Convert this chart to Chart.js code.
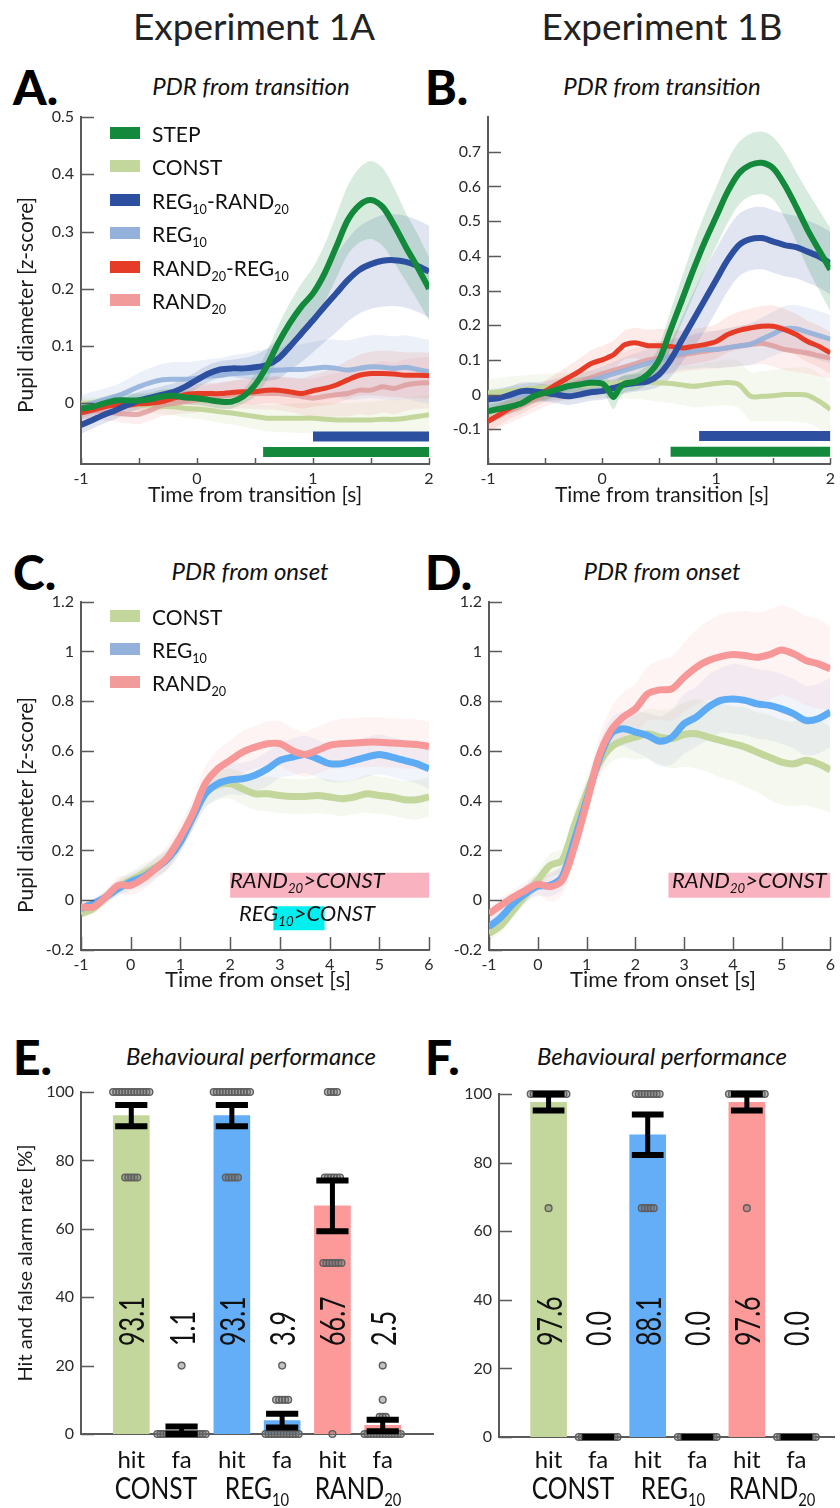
<!DOCTYPE html>
<html>
<head>
<meta charset="utf-8">
<title>Pupil dilation responses and behavioural performance</title>
<script src="https://cdn.jsdelivr.net/npm/chart.js@4.4.1/dist/chart.umd.min.js"></script>
<style>
  body { margin: 0; background: #fff; font-family: Lato, "Open Sans", sans-serif; color: #1a1a1a; }
  #page { position: relative; width: 840px; height: 1508px; overflow: hidden; }
  canvas { position: absolute; }
  .txt { position: absolute; white-space: nowrap; line-height: 1; }
  .patch { position: absolute; width: 30px; height: 12px; }
  sub { font-size: 0.6em; vertical-align: -0.4em; line-height: 0; }
</style>
</head>
<body>
<div id="page"></div>
<script>
// ---------- data: Experiment 1A, PDR from transition ----------
const A_TIME = [-1,-0.9,-0.8,-0.7,-0.6,-0.5,-0.4,-0.3,-0.2,-0.1,0,0.1,0.2,0.3,0.4,0.5,0.6,0.7,0.8,0.9,1,1.1,1.2,1.3,1.4,1.5,1.6,1.7,1.8,1.9,2];
const A_STEP = [-0.009,-0.006,0,0.005,0.005,0.005,0.007,0.012,0.013,0.010,0.009,0.006,0.003,0.003,0.012,0.032,0.064,0.105,0.14,0.169,0.192,0.227,0.273,0.32,0.346,0.355,0.343,0.311,0.273,0.238,0.2];
const A_STEP_SEM = [0.012,0.012,0.012,0.012,0.012,0.012,0.012,0.012,0.012,0.012,0.012,0.012,0.012,0.012,0.012,0.02,0.025,0.03,0.035,0.04,0.045,0.05,0.055,0.06,0.065,0.068,0.068,0.065,0.06,0.058,0.055];
const A_REG_RAND = [-0.038,-0.029,-0.02,-0.012,-0.003,0.005,0.01,0.015,0.02,0.029,0.041,0.052,0.059,0.061,0.061,0.063,0.067,0.078,0.099,0.122,0.145,0.169,0.192,0.215,0.233,0.243,0.249,0.25,0.247,0.24,0.23];
const A_REG_RAND_SEM = [0.015,0.015,0.015,0.015,0.015,0.015,0.015,0.015,0.015,0.015,0.015,0.015,0.015,0.015,0.018,0.022,0.028,0.035,0.042,0.05,0.056,0.062,0.068,0.072,0.076,0.078,0.08,0.08,0.08,0.08,0.08];
const A_REG = [-0.006,0,0.006,0.012,0.02,0.029,0.036,0.041,0.042,0.042,0.044,0.047,0.049,0.052,0.053,0.055,0.057,0.058,0.059,0.059,0.061,0.063,0.061,0.058,0.061,0.064,0.063,0.061,0.063,0.059,0.055];
const A_REG_SEM = [0.02,0.02,0.02,0.02,0.022,0.024,0.026,0.028,0.03,0.03,0.03,0.03,0.03,0.032,0.034,0.036,0.038,0.04,0.042,0.044,0.046,0.048,0.05,0.052,0.054,0.055,0.056,0.056,0.056,0.056,0.056];
const A_RAND_REG = [-0.017,-0.012,-0.006,-0.003,-0.003,-0.001,0,0.003,0.009,0.015,0.017,0.017,0.017,0.019,0.02,0.02,0.023,0.023,0.02,0.017,0.022,0.026,0.032,0.041,0.049,0.052,0.052,0.051,0.049,0.049,0.048];
const A_RAND_REG_SEM = [0.012,0.012,0.012,0.012,0.012,0.012,0.013,0.014,0.015,0.016,0.017,0.018,0.019,0.02,0.021,0.022,0.023,0.024,0.025,0.026,0.028,0.03,0.032,0.034,0.036,0.038,0.04,0.04,0.04,0.04,0.04];
const A_RAND = [-0.012,-0.012,-0.015,-0.017,-0.019,-0.019,-0.012,-0.003,0,0.003,0.006,0.009,0.012,0.015,0.017,0.017,0.017,0.017,0.015,0.012,0.009,0.012,0.015,0.017,0.023,0.023,0.029,0.026,0.032,0.035,0.036];
const A_RAND_SEM = [0.015,0.015,0.015,0.015,0.016,0.017,0.018,0.019,0.02,0.021,0.022,0.023,0.024,0.025,0.026,0.027,0.028,0.029,0.03,0.032,0.034,0.036,0.038,0.04,0.042,0.044,0.045,0.045,0.045,0.045,0.045];
const A_CONST = [0,0,0,0,-0.001,-0.003,-0.003,-0.005,-0.006,-0.009,-0.01,-0.012,-0.015,-0.017,-0.02,-0.023,-0.026,-0.026,-0.026,-0.026,-0.026,-0.028,-0.029,-0.029,-0.029,-0.029,-0.028,-0.028,-0.026,-0.023,-0.02];
const A_CONST_SEM = [0.01,0.01,0.01,0.01,0.011,0.012,0.013,0.014,0.015,0.016,0.017,0.018,0.019,0.02,0.021,0.022,0.023,0.024,0.025,0.026,0.027,0.028,0.029,0.03,0.031,0.032,0.033,0.034,0.035,0.035,0.035];
// significant clusters: [start, end, y level]
const A_SIG_REG_RAND = [1.0, 2.0, -0.058];
const A_SIG_STEP = [0.57, 2.0, -0.085];

// ---------- data: Experiment 1B, PDR from transition ----------
const B_TIME = [-1,-0.9,-0.8,-0.7,-0.6,-0.5,-0.4,-0.3,-0.2,-0.1,0,0.05,0.1,0.15,0.2,0.3,0.4,0.5,0.6,0.7,0.8,0.9,1,1.1,1.2,1.3,1.4,1.5,1.6,1.7,1.8,1.9,2];
const B_STEP = [-0.048,-0.041,-0.034,-0.024,-0.005,0.005,0.014,0.024,0.029,0.034,0.032,0.015,-0.007,0.018,0.032,0.038,0.058,0.1,0.187,0.273,0.36,0.441,0.513,0.585,0.638,0.662,0.668,0.652,0.604,0.542,0.475,0.417,0.36];
const B_STEP_SEM = [0.02,0.02,0.02,0.02,0.02,0.02,0.02,0.02,0.02,0.02,0.02,0.03,0.035,0.03,0.025,0.025,0.028,0.04,0.055,0.065,0.075,0.08,0.085,0.09,0.09,0.09,0.09,0.09,0.095,0.1,0.11,0.115,0.12];
const B_REG_RAND = [-0.014,-0.01,0,0.01,0.01,0.005,0,-0.005,0,0.007,0.01,0.015,0.019,0.024,0.029,0.034,0.038,0.058,0.1,0.158,0.216,0.273,0.331,0.388,0.431,0.448,0.451,0.441,0.431,0.425,0.412,0.398,0.379];
const B_REG_RAND_SEM = [0.025,0.025,0.025,0.025,0.025,0.025,0.025,0.025,0.025,0.025,0.025,0.025,0.025,0.025,0.025,0.025,0.025,0.035,0.05,0.065,0.08,0.09,0.09,0.09,0.09,0.09,0.09,0.09,0.09,0.09,0.09,0.09,0.09];
const B_RAND_REG = [-0.077,-0.058,-0.038,-0.024,-0.007,0.01,0.029,0.048,0.067,0.089,0.1,0.107,0.115,0.13,0.144,0.149,0.141,0.141,0.139,0.134,0.139,0.144,0.153,0.173,0.185,0.192,0.197,0.197,0.187,0.173,0.153,0.139,0.12];
const B_RAND_REG_SEM = [0.03,0.03,0.03,0.03,0.03,0.03,0.032,0.034,0.036,0.038,0.04,0.04,0.04,0.04,0.042,0.044,0.046,0.048,0.05,0.05,0.05,0.05,0.05,0.052,0.054,0.056,0.058,0.06,0.06,0.06,0.06,0.06,0.06];
const B_REG = [-0.015,-0.01,-0.005,0,0.005,0.01,0.015,0.02,0.03,0.04,0.05,0.055,0.06,0.065,0.07,0.08,0.09,0.1,0.11,0.12,0.125,0.13,0.13,0.135,0.14,0.145,0.16,0.175,0.19,0.19,0.18,0.17,0.16];
const B_REG_SEM = [0.03,0.03,0.03,0.03,0.03,0.03,0.03,0.03,0.03,0.03,0.03,0.032,0.034,0.036,0.038,0.04,0.042,0.044,0.046,0.048,0.05,0.052,0.054,0.056,0.058,0.06,0.062,0.064,0.066,0.068,0.07,0.07,0.07];
const B_RAND = [-0.075,-0.06,-0.045,-0.03,-0.015,0,0.012,0.024,0.036,0.048,0.06,0.065,0.07,0.075,0.08,0.09,0.1,0.105,0.11,0.115,0.12,0.125,0.13,0.135,0.14,0.145,0.148,0.14,0.13,0.125,0.12,0.112,0.105];
const B_RAND_SEM = [0.035,0.035,0.035,0.035,0.035,0.035,0.035,0.035,0.035,0.035,0.035,0.037,0.039,0.041,0.043,0.045,0.047,0.049,0.05,0.05,0.05,0.052,0.054,0.056,0.058,0.06,0.06,0.06,0.06,0.06,0.06,0.06,0.06];
const B_CONST = [0.005,0.008,0.012,0.015,0.018,0.02,0.022,0.024,0.026,0.028,0.03,0.031,0.032,0.034,0.036,0.038,0.036,0.034,0.032,0.028,0.024,0.028,0.032,0.035,0.029,-0.005,-0.005,-0.003,0,0,-0.002,-0.019,-0.043];
const B_CONST_SEM = [0.04,0.04,0.04,0.04,0.04,0.04,0.04,0.04,0.04,0.04,0.04,0.042,0.044,0.046,0.048,0.05,0.052,0.054,0.056,0.058,0.06,0.062,0.064,0.066,0.068,0.07,0.072,0.074,0.076,0.078,0.08,0.08,0.08];
const B_SIG_REG_RAND = [0.85, 2.0, -0.119];
const B_SIG_STEP = [0.6, 2.0, -0.165];

// ---------- data: PDR from onset (C = 1A, D = 1B) ----------
const CD_TIME = [-1,-0.75,-0.5,-0.25,0,0.25,0.5,0.75,1,1.25,1.5,1.75,2,2.25,2.5,2.75,3,3.25,3.5,3.75,4,4.25,4.5,4.75,5,5.25,5.5,5.75,6];
const C_CONST = [-0.054,-0.033,0.013,0.054,0.08,0.107,0.134,0.167,0.24,0.334,0.428,0.462,0.468,0.448,0.428,0.428,0.421,0.417,0.417,0.421,0.415,0.408,0.415,0.428,0.421,0.415,0.404,0.404,0.415];
const C_CONST_SEM = [0.02,0.02,0.025,0.03,0.035,0.04,0.04,0.04,0.045,0.05,0.055,0.06,0.06,0.065,0.065,0.07,0.07,0.07,0.07,0.07,0.07,0.07,0.07,0.075,0.075,0.075,0.075,0.08,0.08];
const C_REG = [-0.033,-0.013,0.013,0.047,0.074,0.094,0.127,0.167,0.234,0.334,0.428,0.468,0.484,0.488,0.502,0.528,0.562,0.575,0.586,0.569,0.549,0.549,0.562,0.575,0.586,0.575,0.562,0.549,0.528];
const C_REG_SEM = [0.02,0.02,0.025,0.03,0.035,0.04,0.04,0.04,0.045,0.05,0.055,0.06,0.06,0.065,0.065,0.07,0.07,0.075,0.075,0.075,0.075,0.075,0.08,0.08,0.08,0.08,0.08,0.08,0.08];
const C_RAND = [-0.027,-0.027,0.013,0.06,0.06,0.087,0.127,0.174,0.254,0.348,0.468,0.528,0.562,0.595,0.615,0.629,0.629,0.602,0.586,0.602,0.622,0.629,0.632,0.635,0.635,0.632,0.629,0.626,0.618];
const C_RAND_SEM = [0.025,0.025,0.03,0.035,0.04,0.045,0.045,0.05,0.055,0.06,0.07,0.075,0.08,0.085,0.085,0.09,0.09,0.09,0.09,0.095,0.095,0.1,0.1,0.1,0.1,0.1,0.1,0.1,0.1];
const C_SIG_RAND = [2.0, 6.0, 0.06];
const C_SIG_REG = [2.87, 3.9, -0.072];

const D_CONST = [-0.134,-0.1,-0.04,0.02,0.08,0.14,0.16,0.3,0.43,0.548,0.615,0.642,0.655,0.669,0.655,0.649,0.666,0.669,0.655,0.642,0.629,0.615,0.595,0.575,0.555,0.548,0.562,0.548,0.524];
const D_CONST_SEM = [0.03,0.03,0.03,0.035,0.04,0.045,0.05,0.055,0.06,0.06,0.06,0.07,0.09,0.1,0.11,0.12,0.13,0.14,0.14,0.15,0.15,0.16,0.16,0.17,0.17,0.17,0.18,0.18,0.17];
const D_REG = [-0.107,-0.067,-0.013,0.027,0.056,0.06,0.094,0.241,0.401,0.562,0.669,0.689,0.676,0.662,0.639,0.655,0.709,0.736,0.776,0.803,0.809,0.803,0.789,0.783,0.769,0.749,0.722,0.729,0.756];
const D_REG_SEM = [0.03,0.03,0.03,0.035,0.04,0.045,0.05,0.055,0.06,0.06,0.06,0.07,0.08,0.09,0.1,0.11,0.12,0.12,0.13,0.13,0.14,0.14,0.14,0.14,0.14,0.14,0.14,0.14,0.14];
const D_RAND = [-0.054,-0.02,0.013,0.04,0.064,0.054,0.08,0.214,0.388,0.575,0.682,0.736,0.769,0.829,0.845,0.849,0.896,0.936,0.963,0.979,0.987,0.983,0.976,0.987,1.006,0.99,0.963,0.95,0.93];
const D_RAND_SEM = [0.03,0.03,0.03,0.035,0.04,0.06,0.06,0.06,0.07,0.08,0.09,0.1,0.1,0.11,0.12,0.13,0.14,0.15,0.16,0.17,0.17,0.18,0.18,0.18,0.18,0.18,0.18,0.18,0.17];
const D_SIG_RAND = [2.68, 6.0, 0.06];

// ---------- data: behavioural performance ----------
const PERF_LABELS = ['hit', 'fa', 'hit', 'fa', 'hit', 'fa'];
const E_RATE = [93.1, 1.1, 93.1, 3.9, 66.7, 2.5];
const E_SEM = [3.1, 1.1, 3.1, 2.0, 7.4, 1.7];
const E_CONST_HIT = [100,100,100,100,100,100,100,100,100,100,100,100,100,75,75,75,75,75];
const E_CONST_FA = [0,0,0,0,0,0,0,0,0,0,0,0,0,0,0,0,0,20];
const E_REG_HIT = [100,100,100,100,100,100,100,100,100,100,100,100,100,75,75,75,75,75];
const E_REG_FA = [0,0,0,0,0,0,0,0,0,0,0,0,10,10,10,10,10,20];
const E_RAND_HIT = [100,100,100,100,75,75,75,75,75,75,50,50,50,50,50,50,50,0];
const E_RAND_FA = [0,0,0,0,0,0,0,0,0,0,0,0,0,5,5,5,10,20];

const F_RATE = [97.6, 0.0, 88.1, 0.0, 97.6, 0.0];
const F_SEM = [2.4, 0, 5.9, 0, 2.4, 0];
const F_CONST_HIT = [100,100,100,100,100,100,100,100,100,100,100,100,100,66.7];
const F_CONST_FA = [0,0,0,0,0,0,0,0,0,0,0,0,0,0];
const F_REG_HIT = [100,100,100,100,100,100,100,100,100,66.7,66.7,66.7,66.7,66.7];
const F_REG_FA = [0,0,0,0,0,0,0,0,0,0,0,0,0,0];
const F_RAND_HIT = [100,100,100,100,100,100,100,100,100,100,100,100,100,66.7];
const F_RAND_FA = [0,0,0,0,0,0,0,0,0,0,0,0,0,0];

// ---------- colours ----------
const AXIS = '#5a5a5a';
const C_STEP = '#12893b', C_REGRAND = '#2c4f9f', C_RANDREG = '#e63b26';
const C_REGL = '#94b1dc', C_RANDL = '#f29b9b', C_CONSTL = '#c3d69b';
const C_REGB = '#5eabf5', C_RANDB = '#f79797';
const BAR_COLORS = ['#c3d69b', '#c3d69b', '#64aef8', '#64aef8', '#fc9a9a', '#fc9a9a'];

Chart.defaults.font.family = 'Lato, "Open Sans", sans-serif';
Chart.defaults.color = '#2a2a2a';

const page = document.getElementById('page');

function txt(html, x, y, css, opt) {
    opt = opt || {};
    const d = document.createElement('div');
    d.className = 'txt';
    d.innerHTML = html;
    d.style.cssText += css || '';
    d.style.left = x + 'px';
    d.style.top = y + 'px';
    let tf = opt.left ? 'translate(0,-50%)' : 'translate(-50%,-50%)';
    if (opt.rot) tf += ' rotate(' + opt.rot + 'deg)';
    if (opt.sx) tf += ' scaleX(' + opt.sx + ')';
    d.style.transform = tf;
    page.appendChild(d);
    return d;
}

function addCanvas(left, top, w, h) {
    const c = document.createElement('canvas');
    c.width = w; c.height = h;
    c.style.left = left + 'px'; c.style.top = top + 'px';
    c.style.width = w + 'px'; c.style.height = h + 'px';
    page.appendChild(c);
    return c;
}

// tick marks pointing into the plot, like the original figure
const inTicks = {
    id: 'inTicks',
    afterDraw(chart, args, opts) {
        const {ctx, chartArea: a, scales: {x, y}} = chart;
        ctx.save();
        ctx.strokeStyle = AXIS;
        ctx.lineWidth = 1.5;
        ctx.beginPath();
        if (opts.x) x.ticks.forEach(t => {
            const p = Math.round(x.getPixelForValue(t.value)) + 0.5;
            ctx.moveTo(p, a.bottom); ctx.lineTo(p, a.bottom - opts.x);
        });
        if (opts.y) y.ticks.forEach(t => {
            const p = Math.round(y.getPixelForValue(t.value)) + 0.5;
            ctx.moveTo(a.left, p); ctx.lineTo(a.left + opts.y, p);
        });
        ctx.stroke();
        ctx.restore();
    }
};

function axisOptions(o) {
    return {
        x: {
            type: 'linear', min: o.xMin, max: o.xMax, offset: false,
            grid: {display: false, drawTicks: false},
            border: {display: true, color: AXIS, width: 2},
            afterBuildTicks: s => { s.ticks = o.xTicks.map(v => ({value: v})); },
            afterFit: s => { s.height = o.xAxisH; },
            ticks: {
                display: o.xLabels !== false, autoSkip: false, maxRotation: 0, padding: 5,
                font: {size: 16},
                callback: v => Number.isInteger(v) ? String(v) : ''
            }
        },
        y: {
            min: o.yMin, max: o.yMax,
            grid: {display: false, drawTicks: false},
            border: {display: true, color: AXIS, width: 2},
            afterBuildTicks: s => { s.ticks = o.yTicks.map(v => ({value: v})); },
            afterFit: s => { s.width = o.yAxisW; },
            ticks: {padding: 7, font: {size: 16}, callback: v => String(+(+v).toFixed(2))}
        }
    };
}

function seriesSets(times, s) {
    const pts = arr => arr.map((v, i) => ({x: times[i], y: v}));
    const common = {pointRadius: 0, tension: 0.3};
    return [
        Object.assign({data: pts(s.mean.map((m, i) => m + s.sem[i])), borderColor: 'rgba(0,0,0,0)', borderWidth: 0,
            fill: '+1', backgroundColor: s.band, order: 20 + s.z}, common),
        Object.assign({data: pts(s.mean.map((m, i) => m - s.sem[i])), borderColor: 'rgba(0,0,0,0)', borderWidth: 0,
            fill: false, order: 20 + s.z}, common),
        Object.assign({data: pts(s.mean), borderColor: s.color, borderWidth: s.w, fill: false,
            borderCapStyle: 'butt', borderJoinStyle: 'round', order: s.z}, common)
    ];
}

function markSet(m, color, w) {
    return {data: [{x: m[0], y: m[2]}, {x: m[1], y: m[2]}], borderColor: color, borderWidth: w,
        pointRadius: 0, borderCapStyle: 'butt', fill: false, order: 0};
}

function pdrPanel(o) {
    const c = addCanvas(o.left, o.top, o.w, o.h);
    let sets = [];
    o.series.forEach(s => { sets = sets.concat(seriesSets(o.times, s)); });
    o.marks.forEach(m => sets.push(markSet(m.v, m.color, m.w)));
    return new Chart(c, {
        type: 'line',
        data: {datasets: sets},
        options: {
            responsive: false, animation: false, events: [],
            layout: {padding: {top: o.padTop, right: o.padRight, left: 0, bottom: 0}},
            plugins: {legend: {display: false}, tooltip: {enabled: false}, inTicks: {x: o.xTickLen, y: 13}},
            scales: axisOptions(o)
        },
        plugins: [inTicks]
    });
}

function dotPoints(scores, xc) {
    const groups = {};
    scores.forEach(v => { groups[v] = (groups[v] || 0) + 1; });
    const pts = [];
    Object.keys(groups).forEach(k => {
        const n = groups[k];
        for (let j = 0; j < n; j++) pts.push({x: xc + (j - (n - 1) / 2) * 0.06, y: +k});
    });
    return pts;
}

function barPanel(o) {
    const c = addCanvas(o.left, o.top, o.w, o.h);
    const xs = o.rate.map((v, i) => i + 1);
    let dots = [];
    o.scores.forEach((sc, i) => { dots = dots.concat(dotPoints(sc, xs[i])); });
    const caps = [], stems = [];
    o.rate.forEach((v, i) => {
        const lo = v - o.sem[i], hi = v + o.sem[i];
        caps.push({x: xs[i] - 0.32, y: lo}, {x: xs[i] + 0.32, y: lo}, {x: xs[i], y: null},
                  {x: xs[i] - 0.32, y: hi}, {x: xs[i] + 0.32, y: hi}, {x: xs[i], y: null});
        stems.push({x: xs[i], y: lo}, {x: xs[i], y: hi}, {x: xs[i] + 0.01, y: null});
    });
    const chart = new Chart(c, {
        type: 'bar',
        data: {
            datasets: [
                {type: 'bar', data: o.rate.map((v, i) => ({x: xs[i], y: v})), backgroundColor: BAR_COLORS,
                    barThickness: 36, order: 5},
                {type: 'scatter', data: dots, pointRadius: 3.4, pointBorderWidth: 1.4, clip: false,
                    pointBorderColor: '#5e5e5e', pointBackgroundColor: 'rgba(120,120,120,0.45)', order: 3},
                {type: 'line', data: stems, borderColor: '#000', borderWidth: 5, pointRadius: 0, clip: false,
                    spanGaps: false, borderCapStyle: 'butt', order: 2},
                {type: 'line', data: caps, borderColor: '#000', borderWidth: 6, pointRadius: 0, clip: false,
                    spanGaps: false, borderCapStyle: 'butt', order: 1}
            ]
        },
        options: {
            responsive: false, animation: false, events: [],
            layout: {padding: {top: o.padTop, right: o.padRight, left: 0, bottom: 0}},
            plugins: {legend: {display: false}, tooltip: {enabled: false}, inTicks: {x: 0, y: 13}},
            scales: axisOptions(o)
        },
        plugins: [inTicks]
    });
    // value labels, category labels placed from the x scale
    const xs_px = xs.map(v => o.left + chart.scales.x.getPixelForValue(v));
    o.rate.forEach((v, i) => {
        const d = document.createElement('div');
        d.className = 'txt';
        d.textContent = v.toFixed(1);
        d.style.cssText += 'font-size:34px;line-height:34px;transform-origin:left center;color:#111;';
        d.style.left = xs_px[i] + 'px';
        d.style.top = '1346px';
        d.style.transform = 'translate(0,-50%) rotate(-90deg) scaleX(0.74)';
        page.appendChild(d);
        txt(PERF_LABELS[i], xs_px[i], 1459, 'font-size:24px;color:#111;');
    });
    o.groups.forEach((g, k) => {
        txt(g, (xs_px[2 * k] + xs_px[2 * k + 1]) / 2, 1487, 'font-size:30px;color:#111;', {sx: 0.82});
    });
    return chart;
}

// ---------- page titles ----------
txt('Experiment 1A', 254, 25, 'font-size:37px;color:#222;');
txt('Experiment 1B', 662, 25, 'font-size:37px;color:#222;');

function panelHead(letter, title, lx, tx, y) {
    txt(letter, lx, y + 1, 'font-size:48px;font-weight:900;color:#000;', {left: true});
    txt(title, tx, y, 'font-size:24px;font-style:italic;color:#111;');
}
panelHead('A.', 'PDR from transition', 13, 251, 86);
panelHead('B.', 'PDR from transition', 425, 662, 86);
panelHead('C.', 'PDR from onset', 13, 250, 571);
panelHead('D.', 'PDR from onset', 425, 662, 571);
panelHead('E.', 'Behavioural performance', 13, 251, 1056);
panelHead('F.', 'Behavioural performance', 425, 662, 1056);

// ---------- A ----------
pdrPanel({
    left: 0, top: 100, w: 440, h: 390, padTop: 17, padRight: 11, yAxisW: 81, xAxisH: 26, xTickLen: 6,
    xMin: -1, xMax: 2, xTicks: [-1, -0.5, 0, 0.5, 1, 1.5, 2],
    yMin: -0.106, yMax: 0.5, yTicks: [0, 0.1, 0.2, 0.3, 0.4, 0.5],
    times: A_TIME,
    series: [
        {mean: A_STEP, sem: A_STEP_SEM, color: C_STEP, band: 'rgba(18,137,59,0.17)', w: 6, z: 1},
        {mean: A_REG_RAND, sem: A_REG_RAND_SEM, color: C_REGRAND, band: 'rgba(44,79,159,0.15)', w: 6, z: 2},
        {mean: A_RAND_REG, sem: A_RAND_REG_SEM, color: C_RANDREG, band: 'rgba(230,59,38,0.1)', w: 5, z: 3},
        {mean: A_REG, sem: A_REG_SEM, color: 'rgba(148,177,220,0.9)', band: 'rgba(148,177,220,0.18)', w: 5, z: 4},
        {mean: A_RAND, sem: A_RAND_SEM, color: 'rgba(220,150,150,0.75)', band: 'rgba(242,155,155,0.16)', w: 5, z: 5},
        {mean: A_CONST, sem: A_CONST_SEM, color: C_CONSTL, band: 'rgba(195,214,155,0.18)', w: 5, z: 6}
    ],
    marks: [{v: A_SIG_REG_RAND, color: C_REGRAND, w: 10}, {v: A_SIG_STEP, color: C_STEP, w: 10}]
});

// ---------- B ----------
pdrPanel({
    left: 420, top: 100, w: 420, h: 390, padTop: 17, padRight: 3, yAxisW: 68, xAxisH: 26, xTickLen: 6,
    xMin: -1, xMax: 2, xTicks: [-1, -0.5, 0, 0.5, 1, 1.5, 2],
    yMin: -0.2, yMax: 0.8, yTicks: [-0.1, 0, 0.1, 0.2, 0.3, 0.4, 0.5, 0.6, 0.7],
    times: B_TIME,
    series: [
        {mean: B_STEP, sem: B_STEP_SEM, color: C_STEP, band: 'rgba(18,137,59,0.17)', w: 6, z: 1},
        {mean: B_REG_RAND, sem: B_REG_RAND_SEM, color: C_REGRAND, band: 'rgba(44,79,159,0.15)', w: 6, z: 2},
        {mean: B_RAND_REG, sem: B_RAND_REG_SEM, color: C_RANDREG, band: 'rgba(230,59,38,0.1)', w: 5, z: 3},
        {mean: B_REG, sem: B_REG_SEM, color: 'rgba(148,177,220,0.9)', band: 'rgba(148,177,220,0.18)', w: 5, z: 4},
        {mean: B_RAND, sem: B_RAND_SEM, color: 'rgba(220,150,150,0.75)', band: 'rgba(242,155,155,0.16)', w: 5, z: 5},
        {mean: B_CONST, sem: B_CONST_SEM, color: C_CONSTL, band: 'rgba(195,214,155,0.16)', w: 5, z: 6}
    ],
    marks: [{v: B_SIG_REG_RAND, color: C_REGRAND, w: 10}, {v: B_SIG_STEP, color: C_STEP, w: 10}]
});

// ---------- C ----------
pdrPanel({
    left: 0, top: 585, w: 440, h: 390, padTop: 16, padRight: 11, yAxisW: 81, xAxisH: 25, xTickLen: 13,
    xMin: -1, xMax: 6, xTicks: [-1, 0, 1, 2, 3, 4, 5, 6],
    yMin: -0.2, yMax: 1.2, yTicks: [-0.2, 0, 0.2, 0.4, 0.6, 0.8, 1, 1.2],
    times: CD_TIME,
    series: [
        {mean: C_RAND, sem: C_RAND_SEM, color: C_RANDB, band: 'rgba(247,151,151,0.1)', w: 7, z: 1},
        {mean: C_REG, sem: C_REG_SEM, color: C_REGB, band: 'rgba(140,165,215,0.12)', w: 7, z: 2},
        {mean: C_CONST, sem: C_CONST_SEM, color: C_CONSTL, band: 'rgba(195,214,155,0.16)', w: 7, z: 3}
    ],
    marks: [{v: C_SIG_RAND, color: '#f9b3c0', w: 25}, {v: C_SIG_REG, color: '#00f0f0', w: 24}]
});

// ---------- D ----------
pdrPanel({
    left: 420, top: 585, w: 420, h: 390, padTop: 16, padRight: 3, yAxisW: 69, xAxisH: 25, xTickLen: 13,
    xMin: -1, xMax: 6, xTicks: [-1, 0, 1, 2, 3, 4, 5, 6],
    yMin: -0.2, yMax: 1.2, yTicks: [-0.2, 0, 0.2, 0.4, 0.6, 0.8, 1, 1.2],
    times: CD_TIME,
    series: [
        {mean: D_RAND, sem: D_RAND_SEM, color: C_RANDB, band: 'rgba(247,151,151,0.1)', w: 7, z: 1},
        {mean: D_REG, sem: D_REG_SEM, color: C_REGB, band: 'rgba(140,165,215,0.12)', w: 7, z: 2},
        {mean: D_CONST, sem: D_CONST_SEM, color: C_CONSTL, band: 'rgba(195,214,155,0.16)', w: 7, z: 3}
    ],
    marks: [{v: D_SIG_RAND, color: '#f9b3c0', w: 25}]
});

// ---------- E and F ----------
barPanel({
    left: 0, top: 1075, w: 440, h: 390, padTop: 17, padRight: 7, yAxisW: 81, xAxisH: 31,
    xMin: 0, xMax: 7, xTicks: [], xLabels: false,
    yMin: 0, yMax: 100, yTicks: [0, 20, 40, 60, 80, 100],
    rate: E_RATE, sem: E_SEM,
    scores: [E_CONST_HIT, E_CONST_FA, E_REG_HIT, E_REG_FA, E_RAND_HIT, E_RAND_FA],
    groups: ['CONST', 'REG<sub>10</sub>', 'RAND<sub>20</sub>']
});
barPanel({
    left: 420, top: 1075, w: 420, h: 390, padTop: 19, padRight: 0, yAxisW: 79, xAxisH: 28,
    xMin: 0, xMax: 6.77, xTicks: [], xLabels: false,
    yMin: 0, yMax: 100, yTicks: [0, 20, 40, 60, 80, 100],
    rate: F_RATE, sem: F_SEM,
    scores: [F_CONST_HIT, F_CONST_FA, F_REG_HIT, F_REG_FA, F_RAND_HIT, F_RAND_FA],
    groups: ['CONST', 'REG<sub>10</sub>', 'RAND<sub>20</sub>']
});

// ---------- axis titles ----------
txt('Pupil diameter [z-score]', 24, 305, 'font-size:21px;', {rot: -90});
txt('Pupil diameter [z-score]', 24, 805, 'font-size:21px;', {rot: -90});
txt('Hit and false alarm rate [%]', 24, 1263, 'font-size:20px;', {rot: -90});
txt('Time from transition [s]', 255, 493, 'font-size:21px;');
txt('Time from transition [s]', 662, 493, 'font-size:21px;');
txt('Time from onset [s]', 258, 979, 'font-size:22px;');
txt('Time from onset [s]', 663, 979, 'font-size:22px;');

// ---------- legends ----------
function legend(items, y0, step) {
    items.forEach((it, k) => {
        const y = y0 + k * step;
        const p = document.createElement('div');
        p.className = 'patch';
        p.style.left = '110px';
        p.style.top = (y - 6) + 'px';
        p.style.background = it[1];
        page.appendChild(p);
        txt(it[0], 152, y, 'font-size:21px;color:#111;', {left: true});
    });
}
legend([
    ['STEP', C_STEP],
    ['CONST', C_CONSTL],
    ['REG<sub>10</sub>-RAND<sub>20</sub>', C_REGRAND],
    ['REG<sub>10</sub>', C_REGL],
    ['RAND<sub>20</sub>-REG<sub>10</sub>', C_RANDREG],
    ['RAND<sub>20</sub>', C_RANDL]
], 133, 33.4);
legend([
    ['CONST', C_CONSTL],
    ['REG<sub>10</sub>', C_REGL],
    ['RAND<sub>20</sub>', C_RANDL]
], 616, 33);

// ---------- significance labels ----------
txt('RAND<sub>20</sub>&gt;CONST', 230, 880, 'font-size:22px;font-style:italic;color:#111;', {left: true});
txt('REG<sub>10</sub>&gt;CONST', 239, 913, 'font-size:22px;font-style:italic;color:#111;', {left: true});
txt('RAND<sub>20</sub>&gt;CONST', 672, 880, 'font-size:22px;font-style:italic;color:#111;', {left: true});
</script>
</body>
</html>
